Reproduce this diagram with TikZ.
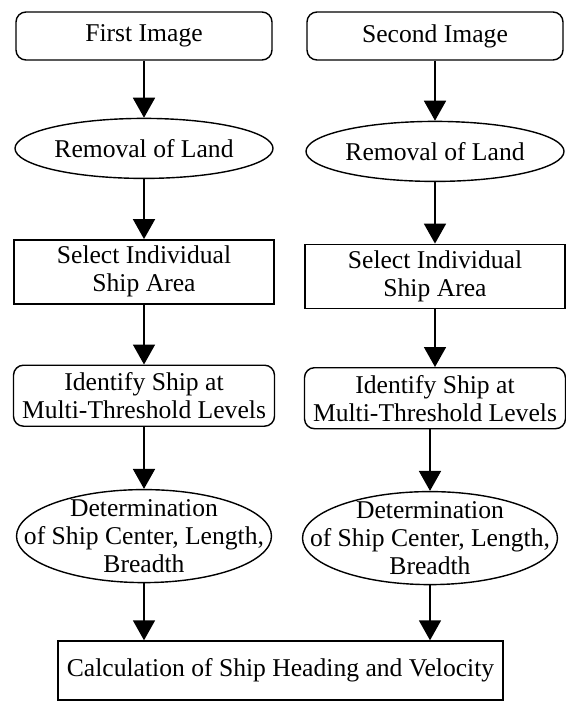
\documentclass[tikz,border=0pt]{standalone}
\usepackage{fontspec}
\setmainfont{Liberation Serif}
\usetikzlibrary{positioning,shapes.geometric,arrows.meta}

\begin{document}
\begin{tikzpicture}[>={Triangle[width=11pt,length=10pt]},
  every node/.style={draw,line width=0.7pt,align=center,inner sep=0pt,font=\fontsize{12.8}{14}\selectfont},
  rbox/.style={rectangle,rounded corners=5pt,minimum width=128pt,minimum height=24pt},
  rbox2/.style={rectangle,rounded corners=5pt,minimum width=130.5pt,minimum height=30.5pt},
  sbox/.style={rectangle,minimum width=130pt,minimum height=32pt},
  oval/.style={ellipse,inner xsep=-4pt,minimum width=129pt,minimum height=30pt},
  bigoval/.style={ellipse,inner xsep=-20pt,inner ysep=-5pt,minimum width=127.5pt,minimum height=46.5pt},
  link/.style={->,line width=0.9pt}]
\useasboundingbox (0,0) rectangle (283pt,-351pt);

% first image
\node[rbox] (f1) at (72pt,-18pt) {First Image};
\node[oval] (r1) [below=28.5pt of f1] {Removal of Land};
\node[sbox] (s1) [below=30pt of r1] {Select Individual\\Ship Area};
\node[rbox2] (i1) [below=30pt of s1] {Identify Ship at\\Multi-Threshold Levels};
\node[bigoval] (d1) [below=31pt of i1] {Determination\\of Ship Center, Length,\\Breadth};

% second image, a little lower than the first
\node[rbox] (f2) at (217.5pt,-18pt) {Second Image};
\node[oval] (r2) at ([yshift=-1.5pt]r1 -| f2) {Removal of Land};
\node[sbox] (s2) at ([yshift=-2.25pt]s1 -| f2) {Select Individual\\Ship Area};
\node[rbox2] (i2) at ([yshift=-1.25pt]i1 -| f2) {Identify Ship at\\Multi-Threshold Levels};
\node[bigoval] (d2) at ([yshift=-1pt,xshift=-2.5pt]d1 -| f2) {Determination\\of Ship Center, Length,\\Breadth};

\node[rectangle,minimum width=222.5pt,minimum height=29.5pt] (calc) at (140.25pt,-335.25pt) {Calculation of Ship Heading and Velocity};

\draw[link] (f1) -- (r1);
\draw[link] (r1) -- (s1);
\draw[link] (s1) -- (i1);
\draw[link] (i1) -- (d1);
\draw[link] (f2) -- (r2);
\draw[link] (r2) -- (s2);
\draw[link] (s2) -- (i2);
\draw[link] (i2.south -| d2.north) -- (d2);
\draw[link] (d1.south) -- (d1.south |- calc.north);
\draw[link] (d2.south) -- (d2.south |- calc.north);
\end{tikzpicture}
\end{document}
